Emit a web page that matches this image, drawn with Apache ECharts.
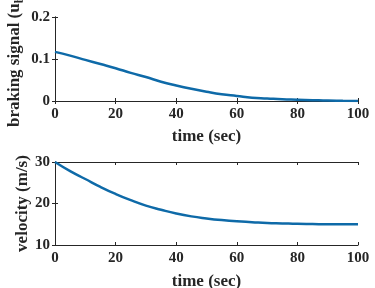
<!DOCTYPE html>
<html><head><meta charset="utf-8">
<script src="https://cdn.jsdelivr.net/npm/echarts@6/dist/echarts.min.js"></script>
<style>html,body{margin:0;padding:0;background:#fff}#c{width:375px;height:288px}</style>
</head><body><div id="c"></div>
<script>
const time = [0, 5, 10, 15, 20, 25, 30, 35, 40, 45, 50, 55, 60, 65, 70, 75, 80, 85, 90, 95, 100];
const braking = [0.117, 0.108, 0.098, 0.088, 0.078, 0.067, 0.057, 0.046, 0.037, 0.029, 0.022, 0.016, 0.012, 0.008, 0.006, 0.004, 0.003, 0.002, 0.001, 0.0005, 0.0];
const velocity = [30, 27.8, 25.9, 24.0, 22.3, 20.8, 19.5, 18.5, 17.6, 16.9, 16.4, 16.0, 15.7, 15.5, 15.3, 15.2, 15.1, 15.05, 15.0, 15.0, 15.0];
const xTicks = [0, 20, 40, 60, 80, 100];
const brakingTicks = [0, 0.1, 0.2];
const velocityTicks = [10, 20, 30];

const font = 'Liberation Serif';
const axColor = '#262626';
const lineColor = '#0e6aa8';

function xAxes(gi, gap) {
  return [{
    type: 'value', gridIndex: gi, min: xTicks[0], max: xTicks[xTicks.length - 1], interval: xTicks[1] - xTicks[0], position: 'bottom',
    name: 'time (sec)', nameLocation: 'middle', nameGap: gap, nameMoveOverlap: false,
    nameTextStyle: {fontFamily: font, fontWeight: 'bold', fontSize: 17, color: axColor},
    axisLine: {show: true, lineStyle: {color: axColor, width: 1}},
    axisTick: {show: true, inside: true, length: 3, lineStyle: {color: axColor}},
    axisLabel: {fontFamily: font, fontWeight: 'bold', fontSize: 15, color: axColor, margin: 6},
    splitLine: {show: false}
  }, {
    type: 'value', gridIndex: gi, min: xTicks[0], max: xTicks[xTicks.length - 1], interval: xTicks[1] - xTicks[0], position: 'top',
    axisLine: {show: true, lineStyle: {color: axColor, width: 1}},
    axisTick: {show: true, inside: true, length: 3, lineStyle: {color: axColor}},
    axisLabel: {show: false}, splitLine: {show: false}
  }];
}
function yAxes(gi, ticks, name, nameGap, rich) {
  const min = ticks[0], max = ticks[ticks.length - 1], interval = ticks[1] - ticks[0];
  const a = {
    type: 'value', gridIndex: gi, min: min, max: max, interval: interval, position: 'left',
    name: name, nameLocation: 'middle', nameGap: nameGap, nameRotate: 90, nameMoveOverlap: false,
    nameTextStyle: Object.assign({fontFamily: font, fontWeight: 'bold', fontSize: 17, color: axColor}, rich ? {rich: rich} : {}),
    axisLine: {show: true, lineStyle: {color: axColor, width: 1}},
    axisTick: {show: true, inside: true, length: 3, lineStyle: {color: axColor}},
    axisLabel: {fontFamily: font, fontWeight: 'bold', fontSize: 15, color: axColor, margin: 5},
    splitLine: {show: false}
  };
  const b = {
    type: 'value', gridIndex: gi, min: min, max: max, interval: interval, position: 'right',
    axisLine: {show: true, lineStyle: {color: axColor, width: 1}},
    axisTick: {show: true, inside: true, length: 3, lineStyle: {color: axColor}},
    axisLabel: {show: false}, splitLine: {show: false}
  };
  return [a, b];
}

const chart = echarts.init(document.getElementById('c'), null, {renderer: 'canvas'});
chart.setOption({
  animation: false,
  backgroundColor: '#fff',
  grid: [
    {left: 55, right: 17, top: 17, height: 84, containLabel: false, outerBoundsMode: 'none'},
    {left: 55, right: 17, top: 162, height: 83, containLabel: false, outerBoundsMode: 'none'}
  ],
  xAxis: [...xAxes(0, 27), ...xAxes(1, 28)],
  yAxis: [
    ...yAxes(0, brakingTicks, 'braking signal (u{sub|b})', 29, {sub: {fontFamily: font, fontWeight: 'bold', fontSize: 12, color: axColor, verticalAlign: 'bottom', padding: [10, 0, 0, 0]}}),
    ...yAxes(1, velocityTicks, 'velocity (m/s)', 24)
  ],
  series: [
    {type: 'line', xAxisIndex: 0, yAxisIndex: 0, data: time.map((t, i) => [t, braking[i]]),
     smooth: true, showSymbol: false, lineStyle: {color: lineColor, width: 2.5}},
    {type: 'line', xAxisIndex: 2, yAxisIndex: 2, data: time.map((t, i) => [t, velocity[i]]),
     smooth: true, showSymbol: false, lineStyle: {color: lineColor, width: 2.5}}
  ]
});
</script></body></html>
